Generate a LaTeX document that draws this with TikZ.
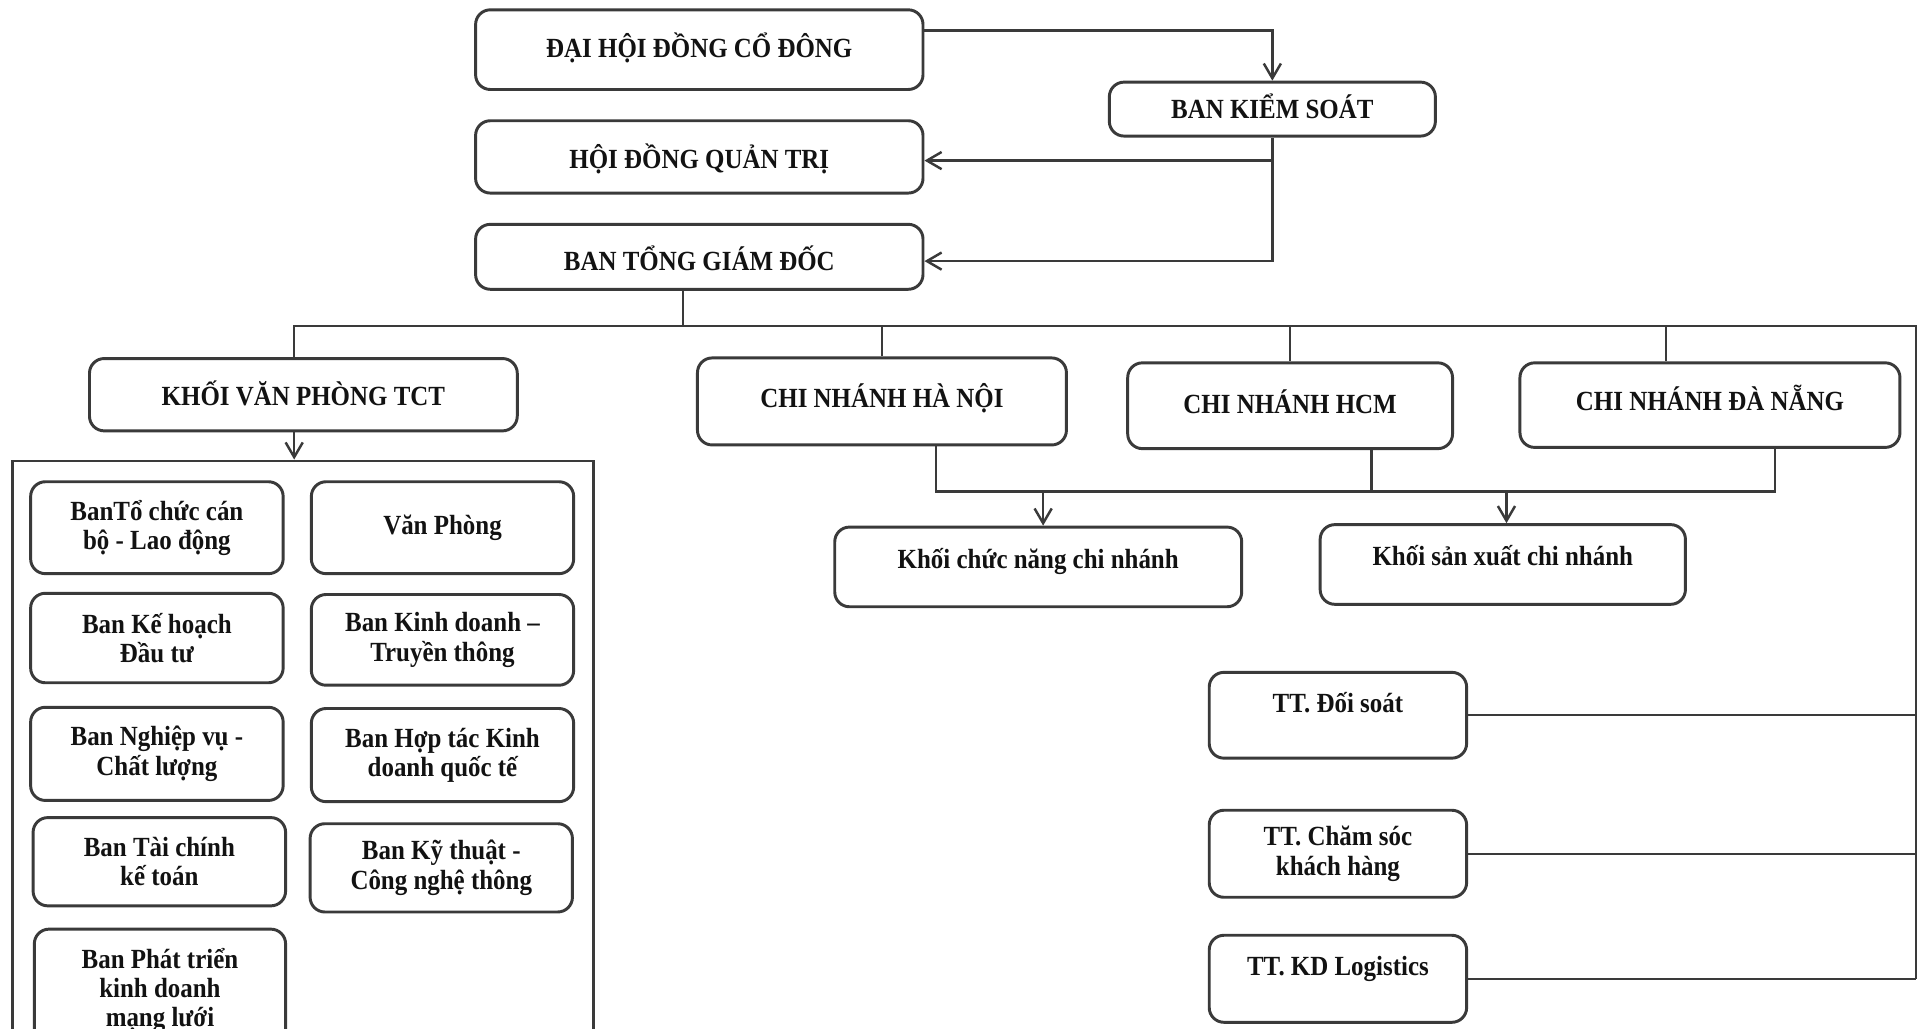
\documentclass[tikz,border=0pt]{standalone}
\usepackage{fontspec}
\setmainfont{Liberation Serif}[FakeStretch=0.9]
\usetikzlibrary{arrows.meta}
\definecolor{bord}{HTML}{3A3A3A}
\definecolor{ink}{HTML}{121212}
\begin{document}
\begin{tikzpicture}[x=1pt,y=-1pt,
  box/.style={draw=bord, line width=2.4pt, rounded corners=12pt, align=center, text=ink,
    font=\fontsize{22.6}{24}\selectfont\bfseries, inner sep=0pt},
  tv/.style={text height={(22-(#1))*1pt}, text depth={(7+(#1))*1pt}},
  ln/.style={draw=bord, line width=2pt},
  arr/.style={ln, -{Straight Barb[length=12pt,width=14pt]}},
  grp/.style={draw=bord, line width=2.2pt, inner sep=0pt}]
\path[use as bounding box] (0,0) rectangle (1568,839);
\fill[white] (0,0) rectangle (1568,839);
\clip (0,0) rectangle (1568,839);

% top governance
\node[box, minimum width=365pt, minimum height=65pt, tv=1] (dh) at (570.5,40.5) {ĐẠI HỘI ĐỒNG CỔ ĐÔNG};
\node[box, minimum width=266pt, minimum height=44pt, tv=0] (bks) at (1038,89) {BAN KIỂM SOÁT};
\node[box, minimum width=365pt, minimum height=59pt, tv=-2] (hdqt) at (570.5,128) {HỘI ĐỒNG QUẢN TRỊ};
\node[box, minimum width=365pt, minimum height=53pt, tv=-3.5] (btgd) at (570.5,209.5) {BAN TỔNG GIÁM ĐỐC};

% second row
\node[box, minimum width=349pt, minimum height=59pt, tv=-1] (kvp) at (247.5,322) {KHỐI VĂN PHÒNG TCT};
\node[box, minimum width=301pt, minimum height=71pt, tv=2.5] (cnhn) at (719.5,327.5) {CHI NHÁNH HÀ NỘI};
\node[box, minimum width=265pt, minimum height=70pt, tv=1] (cnhcm) at (1052.5,331) {CHI NHÁNH HCM};
\node[box, minimum width=310pt, minimum height=69pt, tv=3] (cndn) at (1395,330.5) {CHI NHÁNH ĐÀ NẴNG};

% branch blocks
\node[box, minimum width=332pt, minimum height=65pt, tv=6.5] (kcn) at (847,462.5) {Khối chức năng chi nhánh};
\node[box, minimum width=298pt, minimum height=65pt, tv=6.5] (ksx) at (1226,460.5) {Khối sản xuất chi nhánh};

% centres
\node[box, minimum width=210pt, minimum height=70pt, tv=9.5] (tt1) at (1091.5,583.5) {TT. Đối soát};
\node[box, minimum width=210pt, minimum height=71pt] (tt2) at (1091.5,696.5) {TT. Chăm sóc\\khách hàng};
\node[box, minimum width=210pt, minimum height=71pt, tv=10] (tt3) at (1091.5,798.5) {TT. KD Logistics};

% office group
\node[grp, minimum width=474pt, minimum height=490pt] (vpg) at (247,621) {};
\node[box, minimum width=206pt, minimum height=75pt] (a1) at (128,430.5) {BanTổ chức cán\\bộ - Lao động};
\node[box, minimum width=214pt, minimum height=75pt] (b1) at (361,430.5) {Văn Phòng};
\node[box, minimum width=206pt, minimum height=73pt] (a2) at (128,520.5) {Ban Kế hoạch\\Đầu tư};
\node[box, minimum width=214pt, minimum height=74pt] (b2) at (361,522) {Ban Kinh doanh –\\Truyền thông};
\node[box, minimum width=206pt, minimum height=76pt] (a3) at (128,615) {Ban Nghiệp vụ -\\Chất lượng};
\node[box, minimum width=214pt, minimum height=76pt] (b3) at (361,616) {Ban Hợp tác Kinh\\doanh quốc tế};
\node[box, minimum width=206pt, minimum height=72pt] (a4) at (130,703) {Ban Tài chính\\kế toán};
\node[box, minimum width=214pt, minimum height=72pt] (b4) at (360,708) {Ban Kỹ thuật -\\Công nghệ thông};
\node[box, minimum width=205pt, minimum height=100pt] (a5) at (130.5,808) {Ban Phát triển\\kinh doanh\\mạng lưới};

% connectors: governance
\draw[arr] ([yshift=15.5pt]dh.east) -| (bks.north);
\draw[arr] (bks.south) |- ([yshift=-3.5pt]btgd.east);
\draw[arr] ([yshift=-3pt]bks.south |- hdqt.east) -- ([yshift=-3pt]hdqt.east);

% bus
\coordinate (bus) at (557,266);
\coordinate (busR) at (1563,266);
\draw[ln] ([xshift=-13.5pt]btgd.south) -- ([xshift=-13.5pt]btgd.south |- bus);
\draw[ln] ([xshift=-7.5pt]kvp.north) |- (busR) -- (busR |- tt3.east);
\draw[ln] (cnhn.north |- bus) -- (cnhn.north);
\draw[ln] (cnhcm.north |- bus) -- (cnhcm.north);
\draw[ln] ([xshift=-36pt]cndn.north |- bus) -- ([xshift=-36pt]cndn.north);

% centres to right bus
\draw[ln] (tt1.east) -- (tt1.east -| busR);
\draw[ln] (tt2.east) -- (tt2.east -| busR);
\draw[ln] (tt3.east) -- (tt3.east -| busR);

% branches to blocks
\coordinate (jL) at (763.5,401);
\coordinate (jR) at (1448,401);
\draw[ln] ([xshift=44pt]cnhn.south) -- (jL) -- (jR) -- ([xshift=53pt]cndn.south);
\draw[ln] ([xshift=66.5pt]cnhcm.south) -- ([xshift=66.5pt]cnhcm.south |- jL);
\draw[arr] ([xshift=4pt]kcn.north |- jL) -- ([xshift=4pt]kcn.north);
\draw[arr] ([xshift=3pt]ksx.north |- jL) -- ([xshift=3pt]ksx.north);

% office block to group
\draw[arr] ([xshift=-7.5pt]kvp.south) -- ([xshift=-7.5pt]kvp.south |- vpg.north);
\end{tikzpicture}
\end{document}
